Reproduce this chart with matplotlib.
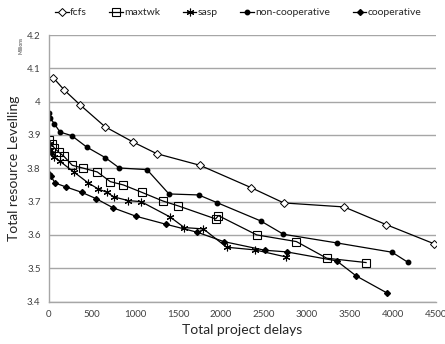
import matplotlib
matplotlib.use("Agg")
import matplotlib.pyplot as plt

plt.rcParams['font.family'] = ['Lato', 'DejaVu Sans']

fcfs_x = [50, 178, 364, 651, 977, 1252, 1756, 2349, 2729, 3430, 3919, 4480]
fcfs_y = [4.072, 4.035, 3.990, 3.925, 3.879, 3.844, 3.809, 3.742, 3.696, 3.684, 3.631, 3.573]

maxtwk_x = [0, 31, 62, 116, 174, 271, 391, 562, 713, 865, 1078, 1322, 1504, 1938, 1969, 2415, 2876, 3229, 3686]
maxtwk_y = [3.886, 3.874, 3.861, 3.848, 3.836, 3.809, 3.801, 3.789, 3.760, 3.750, 3.728, 3.702, 3.687, 3.648, 3.658, 3.600, 3.580, 3.530, 3.517]

sasp_x = [0, 12, 30, 58, 128, 294, 457, 573, 671, 756, 922, 1070, 1407, 1574, 1795, 2066, 2395, 2752]
sasp_y = [3.872, 3.854, 3.845, 3.834, 3.821, 3.788, 3.756, 3.738, 3.728, 3.714, 3.703, 3.700, 3.654, 3.622, 3.618, 3.563, 3.555, 3.534]

noncoop_x = [0, 12, 62, 128, 264, 438, 655, 818, 1140, 1395, 1740, 1953, 2461, 2725, 3345, 3988, 4171]
noncoop_y = [3.967, 3.952, 3.934, 3.909, 3.898, 3.864, 3.832, 3.801, 3.796, 3.723, 3.720, 3.697, 3.642, 3.602, 3.576, 3.548, 3.518]

coop_x = [0, 19, 70, 198, 380, 547, 748, 1012, 1360, 1724, 2031, 2508, 2764, 3345, 3570, 3934]
coop_y = [3.784, 3.778, 3.756, 3.744, 3.728, 3.709, 3.681, 3.656, 3.632, 3.608, 3.580, 3.554, 3.549, 3.522, 3.477, 3.425]

labels = ["fcfs", "maxtwk", "sasp", "non-cooperative", "cooperative"]
xticks = [0, 500, 1000, 1500, 2000, 2500, 3000, 3500, 4000, 4500]
yticks = [3.4, 3.5, 3.6, 3.7, 3.8, 3.9, 4.0, 4.1, 4.2]
ytick_labels = ["3.4", "3.5", "3.6", "3.7", "3.8", "3.9", "4", "4.1", "4.2"]

fig = plt.figure(figsize=(4.45, 3.44), dpi=100)
ax = fig.add_axes([0.110, 0.1235, 0.870, 0.7745])

lw = 0.9
ax.plot(fcfs_x, fcfs_y, color='black', lw=lw, marker='D', ms=4.0, mfc='white', mec='black', mew=0.7, label=labels[0])
ax.plot(maxtwk_x, maxtwk_y, color='black', lw=lw, marker='s', ms=5.5, mfc='none', mec='black', mew=0.8, label=labels[1])
ax.plot(sasp_x, sasp_y, color='black', lw=lw, marker=(6, 2, 0), ms=5.5, mec='black', mew=0.8, label=labels[2])
ax.plot(noncoop_x, noncoop_y, color='black', lw=lw, marker='o', ms=3.2, mfc='black', mec='black', label=labels[3])
ax.plot(coop_x, coop_y, color='black', lw=lw, marker='D', ms=3.0, mfc='black', mec='black', label=labels[4])

ax.set_xlim(0, 4500)
ax.set_ylim(3.4, 4.2)
ax.set_xticks(xticks)
ax.set_yticks(yticks)
ax.set_yticklabels(ytick_labels)
ax.tick_params(axis='both', labelsize=7, colors='#404040', length=0, pad=6)
ax.yaxis.grid(True, color='#a6a6a6', lw=1.0)
ax.set_axisbelow(True)
for s in ['top', 'right']:
    ax.spines[s].set_visible(False)
for s in ['left', 'bottom']:
    ax.spines[s].set_color('#a6a6a6')
    ax.spines[s].set_linewidth(1.0)

ax.set_xlabel("Total project delays", fontsize=10, color='#262626', labelpad=4)
ax.set_ylabel("Total resource Levelling", fontsize=10, color='#262626', labelpad=5)

fig.text(0.048, 0.868, "Millions", rotation=90, fontsize=3.5, color='#404040', ha='center', va='center')

handles, lbls = ax.get_legend_handles_labels()
fig.legend(handles, lbls, loc='center', bbox_to_anchor=(0.535, 0.963), ncol=5, frameon=False, fontsize=7.5,
           handlelength=1.3, handletextpad=0.1, columnspacing=2.2, borderaxespad=0,
           labelcolor='#262626')

fig.savefig("out.png", dpi=100)
